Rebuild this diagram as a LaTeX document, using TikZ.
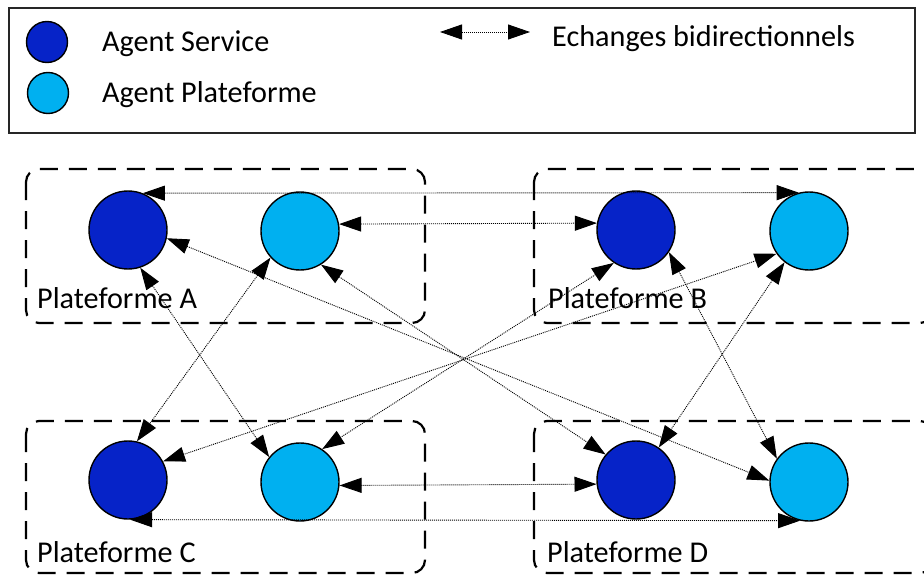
\documentclass[tikz,border=0pt]{standalone}
\usepackage{fontspec}
\setmainfont{Carlito}
\usetikzlibrary{arrows.meta}
\definecolor{svc}{RGB}{6,35,200}
\definecolor{plat}{RGB}{0,176,240}
\tikzset{
  agent/.style={circle, draw=black, line width=1.4pt, inner sep=0pt, minimum size=78pt},
  legagent/.style={circle, draw=black, line width=1.4pt, inner sep=0pt, minimum size=41pt},
  ex/.style={dash pattern=on 1pt off 1pt, line width=0.9pt,
    {Triangle[length=22pt,width=15pt]}-{Triangle[length=22pt,width=15pt]}},
  pbox/.style={draw=black, line width=2.2pt, dash pattern=on 18pt off 11pt, rounded corners=13pt},
  lbl/.style={anchor=base west, inner sep=0pt, font=\fontsize{30.2}{36}\selectfont}
}
\begin{document}
\begin{tikzpicture}[x=1pt,y=-1pt]
\useasboundingbox (0,0) rectangle (924,575);
\clip (0,0) rectangle (924,575);
% legend
\draw[line width=1.4pt, draw=black!85] (9,8) rectangle (915,133);
\node[legagent, fill=svc] (ls) at (47,42) {};
\node[legagent, fill=plat] (lp) at (48,93) {};
\node[lbl] (lts) at (102,52) {Agent Service};
\node[lbl] (ltp) at (102,103) {Agent Plateforme};
\coordinate (la) at (440,32);
\coordinate (lb) at (530,32);
\draw[ex] (la) -- (lb);
\node[lbl] (lte) at (552,47) {Echanges bidirectionnels};
% platform boxes
\draw[pbox] (26,169) rectangle (425,323);
\draw[pbox] (534,169) rectangle (933,323);
\draw[pbox] (26,421) rectangle (425,573);
\draw[pbox] (534,421) rectangle (933,573);
\node[lbl] (ta) at (37,308) {Plateforme A};
\node[lbl] (tb) at (548,308) {Plateforme B};
\node[lbl] (tc) at (37,562) {Plateforme C};
\node[lbl] (td) at (547,562) {Plateforme D};
% agents
\node[agent, fill=svc] (SA) at (128,230) {};
\node[agent, fill=plat] (PA) at (300,231) {};
\node[agent, fill=svc] (SB) at (636,230) {};
\node[agent, fill=plat] (PB) at (809,231) {};
\node[agent, fill=svc] (SC) at (128,480) {};
\node[agent, fill=plat] (PC) at (300,482) {};
\node[agent, fill=svc] (SD) at (636,480) {};
\node[agent, fill=plat] (PD) at (809,482) {};
% exchanges
\draw[ex] (SA.68) -- (PB.105);
\draw[ex] (PA.10) -- (SB.170);
\draw[ex] (SA.-12) -- (PD.178);
\draw[ex] (PA.-58) -- (SD.140);
\draw[ex] (SA.-72) -- (PC.141);
\draw[ex] (PA.-138) -- (SC.77);
\draw[ex] (SB.-124) -- (PC.56);
\draw[ex] (PB.-145) -- (SC.28);
\draw[ex] (SB.-34) -- (PD.144);
\draw[ex] (PB.-128) -- (SD.55);
\draw[ex] (PC.-5) -- (SD.186);
\draw[ex] (SC.-87) -- (PD.-103);
\end{tikzpicture}
\end{document}
